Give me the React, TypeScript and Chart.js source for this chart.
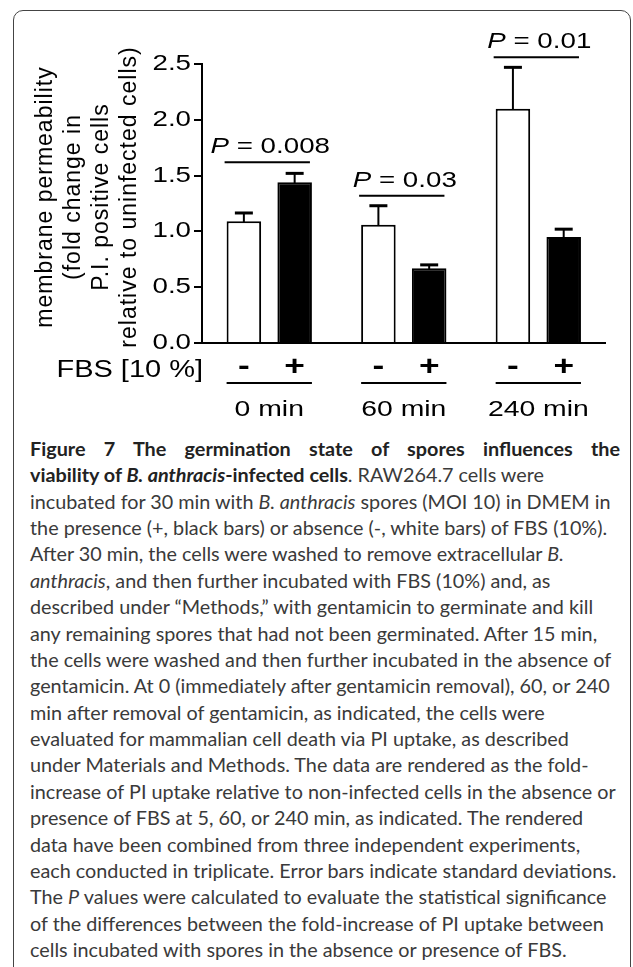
import React, { useEffect, useRef } from 'react';
import { Chart, registerables } from 'chart.js';

Chart.register(...registerables);

// ---------- data ----------
const timeGroups = ['0 min', '60 min', '240 min'];
const minusFBS = [1.09, 1.06, 2.1];
const minusFBSsd = [0.075, 0.17, 0.37];
const plusFBS = [1.44, 0.67, 0.95];
const plusFBSsd = [0.08, 0.03, 0.07];
const pValueLabels = ['0.008', '0.03', '0.01'];
const pBracketLevels = [1.62, 1.32, 2.56];
const fbsSigns = ['-', '+'];
const fbsAxisLabel = 'FBS [10 %]';
const yTitleLines = [
  'membrane permeability',
  '(fold change in',
  'P.I. positive cells',
  'relative to uninfected cells)',
];
const yMin = 0;
const yMax = 2.5;
const yStep = 0.5;

const FONT = '"Liberation Sans", Arial, Helvetica, sans-serif';
const STRETCH = 1.26; // the figure's lettering is horizontally widened

function hline(ctx: CanvasRenderingContext2D, x1: number, x2: number, y: number) {
  ctx.beginPath();
  ctx.moveTo(x1, y);
  ctx.lineTo(x2, y);
  ctx.stroke();
}

const annotPlugin = {
  id: 'annot',
  beforeInit(chart: any) {
    const ctx: any = chart.ctx;
    const raw = ctx.fillText.bind(ctx);
    ctx.rawFillText = raw;
    ctx.fillText = (text: string, x: number, y: number, mw?: number) => {
      ctx.save();
      ctx.translate(x, y);
      ctx.scale(STRETCH, 1);
      if (mw === undefined || mw === null) raw(text, 0, 0);
      else raw(text, 0, 0, mw / STRETCH);
      ctx.restore();
    };
  },
  afterDatasetsDraw(chart: any) {
    const ctx: CanvasRenderingContext2D = chart.ctx;
    const y = chart.scales.y;
    const sets: [number[], number[]][] = [
      [minusFBS, minusFBSsd],
      [plusFBS, plusFBSsd],
    ];
    ctx.save();
    ctx.strokeStyle = '#000';
    sets.forEach(([vals, sds], di) => {
      const meta = chart.getDatasetMeta(di);
      meta.data.forEach((bar: any, i: number) => {
        const top = y.getPixelForValue(vals[i] + sds[i]);
        ctx.lineWidth = 2;
        ctx.beginPath();
        ctx.moveTo(bar.x, bar.y + 1);
        ctx.lineTo(bar.x, top);
        ctx.stroke();
        ctx.lineWidth = 3;
        hline(ctx, bar.x - 9, bar.x + 9, top);
      });
    });
    ctx.restore();
  },
  afterDraw(chart: any) {
    const ctx: any = chart.ctx;
    const area = chart.chartArea;
    const y = chart.scales.y;
    const m0 = chart.getDatasetMeta(0);
    const m1 = chart.getDatasetMeta(1);
    ctx.save();
    ctx.fillStyle = '#000';
    ctx.strokeStyle = '#000';
    timeGroups.forEach((_, i) => {
      const b0: any = m0.data[i];
      const b1: any = m1.data[i];
      const left = b0.x - b0.width / 2;
      const right = b1.x + b1.width / 2;
      // significance bracket
      const by = y.getPixelForValue(pBracketLevels[i]);
      ctx.lineWidth = 2;
      hline(ctx, left - 2, right - 2, by);
      // P value text
      const italic = `italic 22px ${FONT}`;
      const regular = `22px ${FONT}`;
      ctx.font = italic;
      const wP = ctx.measureText('P').width * STRETCH;
      const rest = ' = ' + pValueLabels[i];
      ctx.font = regular;
      const wR = ctx.measureText(rest).width * STRETCH;
      const cx = (left + right) / 2 + 1;
      const sx = cx - (wP + wR) / 2;
      ctx.textAlign = 'left';
      ctx.textBaseline = 'alphabetic';
      ctx.font = italic;
      ctx.fillText('P', sx, by - 9);
      ctx.font = regular;
      ctx.fillText(rest, sx + wP, by - 9);
      // FBS signs
      ctx.font = `bold 28px ${FONT}`;
      ctx.textAlign = 'center';
      ctx.textBaseline = 'middle';
      ctx.fillText(fbsSigns[0], b0.x, area.bottom + 24);
      ctx.fillText(fbsSigns[1], b1.x, area.bottom + 24);
      // group underline
      ctx.lineWidth = 2;
      hline(ctx, left, right, area.bottom + 40);
    });
    // FBS axis label
    ctx.font = `23px ${FONT}`;
    ctx.textAlign = 'right';
    ctx.textBaseline = 'middle';
    ctx.fillText(fbsAxisLabel, area.left + 1, area.bottom + 28);
    // rotated y title (not widened: it runs vertically)
    ctx.letterSpacing = '1px';
    ctx.font = `23px ${FONT}`;
    ctx.textAlign = 'center';
    ctx.textBaseline = 'alphabetic';
    const midY = (area.top + area.bottom) / 2 - 6;
    yTitleLines.forEach((t, k) => {
      ctx.save();
      ctx.translate(area.left - 150.5 + 28.3 * k, midY);
      ctx.rotate(-Math.PI / 2);
      ctx.rawFillText(t, 0.5, 0);
      ctx.restore();
    });
    ctx.letterSpacing = '0px';
    ctx.restore();
  },
};

function ChartCanvas() {
  const ref = useRef<HTMLCanvasElement>(null);
  useEffect(() => {
    const canvas = ref.current;
    if (!canvas) return;
    const chart = new Chart(canvas, {
      type: 'bar',
      data: {
        labels: timeGroups,
        datasets: [
          {
            label: 'FBS -',
            data: minusFBS,
            backgroundColor: '#ffffff',
            borderColor: '#000000',
            borderWidth: 2,
            categoryPercentage: 0.755,
            barPercentage: 0.68,
          },
          {
            label: 'FBS +',
            data: plusFBS,
            backgroundColor: '#000000',
            borderColor: '#000000',
            borderWidth: 2,
            categoryPercentage: 0.755,
            barPercentage: 0.68,
          },
        ],
      },
      options: {
        responsive: false,
        animation: false,
        devicePixelRatio: 1,
        layout: { padding: { left: 0, top: 64, right: 10, bottom: 0 } },
        plugins: { legend: { display: false }, tooltip: { enabled: false } },
        scales: {
          x: {
            grid: { display: false, drawTicks: false },
            border: { display: true, color: '#000', width: 2 },
            ticks: {
              color: '#000',
              font: { family: FONT, size: 22.5 },
              padding: 53,
              maxRotation: 0,
              autoSkip: false,
            },
            afterFit: (s: any) => {
              s.height = 87;
            },
          },
          y: {
            min: yMin,
            max: yMax,
            grid: {
              drawOnChartArea: false,
              drawTicks: true,
              tickLength: 8,
              color: '#000',
              lineWidth: 2,
            },
            border: { display: true, color: '#000', width: 2 },
            ticks: {
              stepSize: yStep,
              padding: 3,
              color: '#000',
              font: { family: FONT, size: 22 },
              callback: (v: any) => Number(v).toFixed(1),
            },
            afterFit: (s: any) => {
              s.width = 202;
            },
          },
        },
      } as any,
      plugins: [annotPlugin as any],
    });
    return () => chart.destroy();
  }, []);
  return (
    <canvas
      ref={ref}
      width={633}
      height={430}
      style={{ position: 'absolute', left: 0, top: 0, width: 633, height: 430 }}
    />
  );
}

const captionFont = 'Lato, "Open Sans", "Noto Sans", sans-serif';

export default function App() {
  const lineStyle: React.CSSProperties = { whiteSpace: 'nowrap', height: 26.4 };
  return (
    <div
      style={{
        position: 'fixed',
        left: 0,
        top: 0,
        width: 633,
        height: 967,
        overflow: 'hidden',
        background: '#fff',
      }}
    >
      <div
        style={{
          position: 'absolute',
          left: 13,
          top: 10,
          width: 618,
          height: 1000,
          border: '1.5px solid #444',
          borderRadius: 10,
          boxSizing: 'border-box',
        }}
      />
      <ChartCanvas />
      <div
        style={{
          position: 'absolute',
          left: 30,
          top: 434.8,
          width: 592,
          fontFamily: captionFont,
          fontSize: 19.8,
          lineHeight: '26.4px',
          color: '#3a3a3a',
        }}
      >
        <div
          style={{
            ...lineStyle,
            fontWeight: 700,
            color: '#222',
            textAlign: 'justify',
            textAlignLast: 'justify',
            width: 590,
          }}
        >
          Figure 7 The germination state of spores influences the
        </div>
        <div style={lineStyle}>
          <b style={{ color: '#222' }}>
            viability of <i>B. anthracis</i>-infected cells
          </b>
          . RAW264.7 cells were
        </div>
        <div style={lineStyle}>
          incubated for 30 min with <i>B. anthracis</i> spores (MOI 10) in DMEM in
        </div>
        <div style={lineStyle}>
          the presence (+, black bars) or absence (-, white bars) of FBS (10%).
        </div>
        <div style={lineStyle}>
          After 30 min, the cells were washed to remove extracellular <i>B.</i>
        </div>
        <div style={lineStyle}>
          <i>anthracis</i>, and then further incubated with FBS (10%) and, as
        </div>
        <div style={lineStyle}>
          described under “Methods,” with gentamicin to germinate and kill
        </div>
        <div style={lineStyle}>
          any remaining spores that had not been germinated. After 15 min,
        </div>
        <div style={lineStyle}>
          the cells were washed and then further incubated in the absence of
        </div>
        <div style={lineStyle}>
          gentamicin. At 0 (immediately after gentamicin removal), 60, or 240
        </div>
        <div style={lineStyle}>
          min after removal of gentamicin, as indicated, the cells were
        </div>
        <div style={lineStyle}>
          evaluated for mammalian cell death via PI uptake, as described
        </div>
        <div style={lineStyle}>
          under Materials and Methods. The data are rendered as the fold-
        </div>
        <div style={lineStyle}>
          increase of PI uptake relative to non-infected cells in the absence or
        </div>
        <div style={lineStyle}>
          presence of FBS at 5, 60, or 240 min, as indicated. The rendered
        </div>
        <div style={lineStyle}>
          data have been combined from three independent experiments,
        </div>
        <div style={lineStyle}>
          each conducted in triplicate. Error bars indicate standard deviations.
        </div>
        <div style={lineStyle}>
          The <i>P</i> values were calculated to evaluate the statistical significance
        </div>
        <div style={lineStyle}>
          of the differences between the fold-increase of PI uptake between
        </div>
        <div style={lineStyle}>
          cells incubated with spores in the absence or presence of FBS.
        </div>
      </div>
    </div>
  );
}
